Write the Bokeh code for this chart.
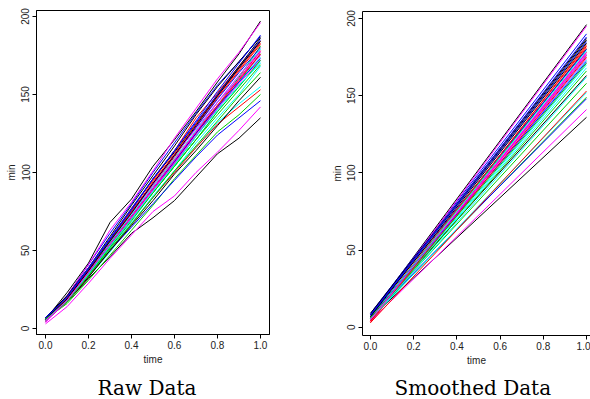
from bokeh.plotting import figure
from bokeh.models import Range1d, LinearAxis, FixedTicker, Title, PrintfTickFormatter
from bokeh.layouts import row, column
from bokeh.embed import file_html
from bokeh.resources import INLINE

# ---------------- data ----------------
raw_time = [0.0, 0.1, 0.2, 0.3, 0.4, 0.5, 0.6, 0.7, 0.8, 0.9, 1.0]

raw_01 = [6, 23, 42, 68, 83, 104, 121, 139, 158, 176, 197]
raw_02 = [5, 19, 38, 57, 77, 95, 114, 135, 151, 168, 184]
raw_03 = [6, 18, 35, 52, 71, 89, 105, 123, 141, 158, 176]
raw_04 = [7, 21, 41, 61, 80, 100, 119, 138, 156, 171, 187]
raw_05 = [5, 17, 33, 49, 67, 85, 101, 119, 135, 150, 168]
raw_06 = [4, 21, 41, 63, 81, 101, 122, 141, 160, 177, 196]
raw_07 = [6, 17, 32, 46, 61, 71, 82, 97, 112, 122, 135]
raw_08 = [5, 18, 36, 55, 74, 92, 110, 129, 148, 165, 182]
raw_09 = [6, 16, 31, 47, 63, 79, 96, 111, 126, 137, 150]
raw_10 = [7, 18, 34, 50, 65, 80, 95, 110, 124, 135, 146]
raw_11 = [5, 17, 34, 51, 68, 84, 101, 116, 132, 144, 155]
raw_12 = [3, 14, 29, 45, 60, 75, 85, 100, 113, 127, 142]
raw_13 = [6, 20, 38, 57, 76, 96, 113, 131, 150, 168, 186]
raw_14 = [5, 17, 33, 50, 67, 84, 100, 116, 131, 142, 153]
raw_15 = [6, 18, 36, 54, 72, 90, 107, 125, 143, 161, 181]
raw_16 = [7, 20, 37, 56, 75, 93, 111, 129, 147, 164, 180]
raw_17 = [6, 18, 36, 53, 72, 90, 108, 125, 141, 158, 174]
raw_18 = [5, 19, 36, 56, 74, 92, 111, 128, 145, 160, 175]
raw_19 = [6, 17, 33, 50, 66, 82, 99, 114, 130, 146, 161]
raw_20 = [5, 18, 35, 53, 72, 89, 106, 125, 142, 160, 178]
raw_21 = [6, 17, 34, 51, 67, 84, 101, 117, 133, 149, 164]
raw_22 = [7, 20, 38, 57, 76, 96, 114, 132, 150, 167, 185]
raw_23 = [5, 18, 35, 52, 70, 87, 104, 121, 139, 155, 171]
raw_24 = [4, 18, 35, 53, 71, 89, 107, 126, 143, 160, 177]
raw_25 = [7, 21, 39, 59, 79, 98, 117, 137, 155, 171, 187]
raw_26 = [6, 19, 37, 56, 75, 94, 112, 131, 149, 166, 183]
raw_27 = [5, 17, 34, 52, 69, 87, 104, 121, 137, 153, 169]
raw_28 = [6, 18, 36, 54, 72, 90, 107, 125, 142, 158, 173]
raw_29 = [6, 18, 36, 55, 73, 91, 109, 127, 145, 162, 179]
raw_30 = [5, 17, 35, 53, 70, 88, 106, 124, 141, 157, 172]
raw_31 = [6, 19, 37, 56, 74, 93, 111, 130, 149, 167, 184]
raw_32 = [5, 18, 36, 54, 72, 90, 108, 126, 143, 159, 176]
raw_33 = [6, 17, 35, 53, 70, 87, 104, 121, 139, 155, 172]
raw_34 = [7, 20, 39, 58, 77, 96, 114, 133, 152, 170, 188]
raw_35 = [5, 18, 35, 53, 70, 88, 105, 123, 140, 156, 170]
raw_36 = [5, 18, 36, 54, 72, 90, 108, 126, 145, 162, 178]

raw_series = [raw_01, raw_02, raw_03, raw_04, raw_05, raw_06, raw_07, raw_08, raw_09,
              raw_10, raw_11, raw_12, raw_13, raw_14, raw_15, raw_16, raw_17, raw_18,
              raw_19, raw_20, raw_21, raw_22, raw_23, raw_24, raw_25, raw_26, raw_27,
              raw_28, raw_29, raw_30, raw_31, raw_32, raw_33, raw_34, raw_35, raw_36]

smooth_time = [0.0, 1.0]
smooth_start = [8, 4, 6, 9, 5, 7, 6, 3, 6, 7, 5, 4,
                8, 3, 6, 8, 6, 5, 7, 4, 6, 8, 5, 5,
                9, 6, 5, 7, 6, 5, 7, 4, 6, 8, 5, 5]
smooth_end = [196, 183, 176, 190, 168, 195, 136, 181, 149, 148, 152, 141,
              186, 153, 180, 180, 173, 176, 163, 178, 158, 185, 170, 177,
              187, 182, 166, 172, 179, 174, 184, 175, 171, 188, 162, 178]

tick_x = [0.0, 0.2, 0.4, 0.6, 0.8, 1.0]
tick_y = [0, 50, 100, 150, 200]
palette = ["#000000", "#FF0000", "#00CD00", "#0000FF", "#00FFFF", "#FF00FF"]
titles = ["Raw Data", "Smoothed Data"]


def style(p):
    p.grid.visible = False
    p.background_fill_color = "white"
    p.border_fill_color = "white"
    for ax in (p.xaxis[0], p.yaxis[0]):
        ax.axis_line_color = "black"
        ax.major_tick_line_color = "black"
        ax.major_tick_out = 4
        ax.major_tick_in = 0
        ax.minor_tick_line_color = None
        ax.major_label_text_font = "Liberation Sans"
        ax.major_label_text_font_size = "10px"
        ax.major_label_text_color = "#222222"
        ax.major_label_standoff = 2
        ax.axis_label_text_font = "Liberation Sans"
        ax.axis_label_text_font_size = "10px"
        ax.axis_label_text_font_style = "normal"
        ax.axis_label_text_color = "#222222"
        ax.axis_label_standoff = 2
    p.xaxis[0].ticker = FixedTicker(ticks=tick_x)
    p.xaxis[0].formatter = PrintfTickFormatter(format="%.1f")
    p.yaxis[0].ticker = FixedTicker(ticks=tick_y)
    p.yaxis[0].major_label_orientation = "vertical"
    p.yaxis[0].major_label_standoff = 3
    p.xaxis[0].axis_label = "time"
    p.yaxis[0].axis_label = "min"


def title_strip(text, offset):
    t = figure(width=295, height=30, x_range=Range1d(0, 1), y_range=Range1d(0, 1),
               x_axis_type=None, y_axis_type=None, output_backend="svg",
               toolbar_location=None, min_border_left=0, min_border_right=0,
               min_border_top=0, min_border_bottom=0)
    t.outline_line_color = None
    t.grid.visible = False
    t.add_layout(Title(text=text, align="left", offset=offset, standoff=0,
                       text_font="DejaVu Serif", text_font_size="20px",
                       text_font_style="normal", text_color="black"), "below")
    return t


p1 = figure(width=295, height=369, x_range=Range1d(-0.042, 1.042),
            y_range=Range1d(-3.8, 203.8), output_backend="svg", toolbar_location=None,
            min_border_left=36, min_border_right=26, min_border_top=10, min_border_bottom=35)
style(p1)
p1.outline_line_color = "black"
p1.outline_line_width = 1
for i, ys in enumerate(raw_series):
    p1.line(raw_time, ys, line_color=palette[i % 6], line_width=1)

p2 = figure(width=295, height=369, x_range=Range1d(-0.037, 1.0185),
            y_range=Range1d(-5.3, 204.5), output_backend="svg", toolbar_location=None,
            min_border_left=67, min_border_right=0, min_border_top=11, min_border_bottom=34)
style(p2)
p2.outline_line_color = None
top_axis = LinearAxis(ticker=FixedTicker(ticks=[]), axis_line_color="black",
                      major_tick_line_color=None, minor_tick_line_color=None)
p2.add_layout(top_axis, "above")
for i in range(len(smooth_start)):
    p2.line(smooth_time, [smooth_start[i], smooth_end[i]], line_color=palette[i % 6], line_width=1)

t1 = title_strip(titles[0], 61)
t2 = title_strip(titles[1], 32)

layout = row(column(p1, t1), column(p2, t2))
open("out.html", "w").write(file_html(layout, INLINE))
